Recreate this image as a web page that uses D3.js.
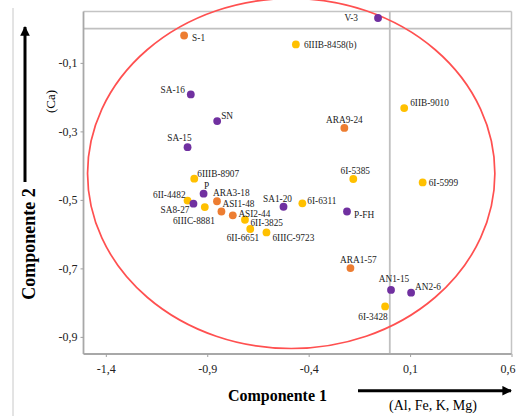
<!DOCTYPE html>
<html><head><meta charset="utf-8">
<script src="https://cdn.jsdelivr.net/npm/d3@7"></script>
<style>body{margin:0;background:#fff}svg{display:block}text{font-family:"Liberation Serif","Times New Roman",serif}</style>
</head><body>
<svg id="c" width="517" height="416"></svg>
<script>
// ---- data ----
const names = ["V-3","S-1","6IIIB-8458(b)","SA-16","SN","6IIB-9010","ARA9-24","SA-15","6IIIB-8907","P","6II-4482","SA8-27","ARA3-18","6IIIC-8881","ASI1-48","ASI2-44","6II-3825","6II-6651","6IIIC-9723","SA1-20","6I-6311","6I-5385","P-FH","6I-5999","ARA1-57","AN1-15","AN2-6","6I-3428"];
const comp1 = [-0.058,-1.014,-0.463,-0.981,-0.851,0.071,-0.224,-0.997,-0.964,-0.918,-0.997,-0.968,-0.852,-0.912,-0.830,-0.774,-0.714,-0.688,-0.608,-0.524,-0.431,-0.180,-0.211,0.162,-0.194,0.006,0.105,-0.023];
const comp2 = [0.031,-0.020,-0.046,-0.192,-0.270,-0.232,-0.290,-0.346,-0.438,-0.482,-0.502,-0.511,-0.504,-0.521,-0.534,-0.545,-0.558,-0.585,-0.595,-0.520,-0.510,-0.439,-0.534,-0.449,-0.699,-0.763,-0.771,-0.811];
const groups = ["A","B","C","A","A","C","B","A","C","A","C","A","B","C","B","B","C","C","C","A","C","C","A","C","B","A","A","C"];
const xTicks = [-1.4,-0.9,-0.4,0.1,0.6];
const yTicks = [-0.1,-0.3,-0.5,-0.7,-0.9];
const ellipseCenter = [-0.486,-0.423];
const ellipseRadii = [1.004,0.511];

// ---- layout / style ----
const colors = {A:"#7030A0", B:"#ED7D31", C:"#FFC000"};
const labelLayout = {
 "V-3":[-20,3,"end"],"S-1":[8,6,"start"],"6IIIB-8458(b)":[8,3.5,"start"],"SA-16":[-6,-1,"end"],
 "SN":[4,-2.5,"start"],"6IIB-9010":[6,-2,"start"],"ARA9-24":[0,-5,"middle"],"SA-15":[4,-6,"end"],
 "6IIIB-8907":[3,-2,"start"],"P":[3,-5,"middle"],"6II-4482":[-2,-3,"end"],"SA8-27":[-4,9.5,"end"],
 "ARA3-18":[-4,-5,"start"],"6IIIC-8881":[10,16.7,"end"],"ASI1-48":[1,-5,"start"],"ASI2-44":[5.6,1.5,"start"],
 "6II-3825":[5.5,6,"start"],"6II-6651":[9,12,"end"],"6IIIC-9723":[6,8.5,"start"],"SA1-20":[-6,-5,"middle"],
 "6I-6311":[5,1,"start"],"6I-5385":[2,-5,"middle"],"P-FH":[7,6,"start"],"6I-5999":[6,3.5,"start"],
 "ARA1-57":[8,-5,"middle"],"AN1-15":[3,-8,"middle"],"AN2-6":[4,-3,"start"],"6I-3428":[2.6,13.5,"end"]
};
const L=83.5, R=511.5, T=11.5, B=354;

const svg = d3.select("#c");
const x = d3.scaleLinear().domain([-1.51,0.6]).range([L,R]);
const y = d3.scaleLinear().domain([-0.95,0.05]).range([B,T]);

// outer thin border line
svg.append("line").attr("x1",13).attr("x2",13).attr("y1",8).attr("y2",416).attr("stroke","#c8c8c8").attr("stroke-width",1);

// frame top/right
svg.append("line").attr("x1",L).attr("x2",R).attr("y1",T).attr("y2",T).attr("stroke","#c4c4c4").attr("stroke-width",1.5);
svg.append("line").attr("x1",R).attr("x2",R).attr("y1",T).attr("y2",B).attr("stroke","#c4c4c4").attr("stroke-width",1.5);
// zero lines
svg.append("line").attr("x1",L).attr("x2",R).attr("y1",y(0)).attr("y2",y(0)).attr("stroke","#c0c0c0").attr("stroke-width",1.8);
svg.append("line").attr("x1",x(0)).attr("x2",x(0)).attr("y1",T).attr("y2",B).attr("stroke","#c0c0c0").attr("stroke-width",1.8);

// axes
const fmt = d=>d3.format(".1f")(d).replace("−","-").replace(".",",");
const xAxis = svg.append("g").attr("transform",`translate(0,${B})`)
  .call(d3.axisBottom(x).tickValues(xTicks).tickSize(3).tickSizeOuter(0).tickPadding(7).tickFormat(fmt));
const yAxis = svg.append("g").attr("transform",`translate(${L},0)`)
  .call(d3.axisLeft(y).tickValues(yTicks).tickSize(3).tickSizeOuter(0).tickPadding(3).tickFormat(fmt));
[xAxis,yAxis].forEach(g=>{
  g.select(".domain").attr("stroke","#a8a8a8").attr("stroke-width",1.8);
  g.selectAll(".tick line").attr("stroke","#a0a0a0").attr("stroke-width",1);
  g.selectAll("text").attr("font-family","Liberation Serif, Times New Roman, serif").attr("font-size",12).attr("fill","#222");
});
xAxis.selectAll(".tick text").filter(d=>d===0.6).attr("dx",-4);
xAxis.select(".domain").attr("d",`M${L},0H${R}`);
yAxis.select(".domain").attr("d",`M0,${T}V${B}`);

// ellipse
svg.append("ellipse")
  .attr("cx",x(ellipseCenter[0])).attr("cy",y(ellipseCenter[1]))
  .attr("rx",x(ellipseCenter[0]+ellipseRadii[0])-x(ellipseCenter[0]))
  .attr("ry",y(ellipseCenter[1]-ellipseRadii[1])-y(ellipseCenter[1]))
  .attr("fill","none").attr("stroke","#FF5050").attr("stroke-width",1.7);

// points
const pts = names.map((n,i)=>({n, x:comp1[i], y:comp2[i], g:groups[i]}));
svg.append("g").selectAll("circle").data(pts).join("circle")
  .attr("cx",d=>x(d.x)).attr("cy",d=>y(d.y)).attr("r",3.9).attr("fill",d=>colors[d.g]);
svg.append("g").selectAll("text").data(pts).join("text")
  .attr("x",d=>x(d.x)+labelLayout[d.n][0]).attr("y",d=>y(d.y)+labelLayout[d.n][1])
  .attr("text-anchor",d=>labelLayout[d.n][2]).attr("font-size",9.3).attr("fill","#222").text(d=>d.n);

// axis titles & arrows
svg.append("defs").append("marker").attr("id","ah").attr("viewBox","0 0 10 10").attr("refX",9).attr("refY",5)
  .attr("markerWidth",3.2).attr("markerHeight",3.2).attr("orient","auto")
  .append("path").attr("d","M0,0L10,5L0,10Z").attr("fill","#000");
svg.append("line").attr("x1",358).attr("x2",511).attr("y1",390.7).attr("y2",390.7).attr("stroke","#000").attr("stroke-width",3).attr("marker-end","url(#ah)");
svg.append("line").attr("x1",25).attr("x2",25).attr("y1",182).attr("y2",27).attr("stroke","#000").attr("stroke-width",3).attr("marker-end","url(#ah)");

svg.append("text").attr("x",277.5).attr("y",401).attr("text-anchor","middle").attr("font-size",16).attr("font-weight","bold").text("Componente 1");
svg.append("text").attr("x",433).attr("y",410).attr("text-anchor","middle").attr("font-size",14).text("(Al, Fe, K, Mg)");
svg.append("text").attr("transform","translate(35,244) rotate(-90)").attr("text-anchor","middle").attr("font-size",18).attr("font-weight","bold").text("Componente 2");
svg.append("text").attr("transform","translate(54.5,101.5) rotate(-90)").attr("text-anchor","middle").attr("font-size",13).text("(Ca)");
</script>
</body></html>
